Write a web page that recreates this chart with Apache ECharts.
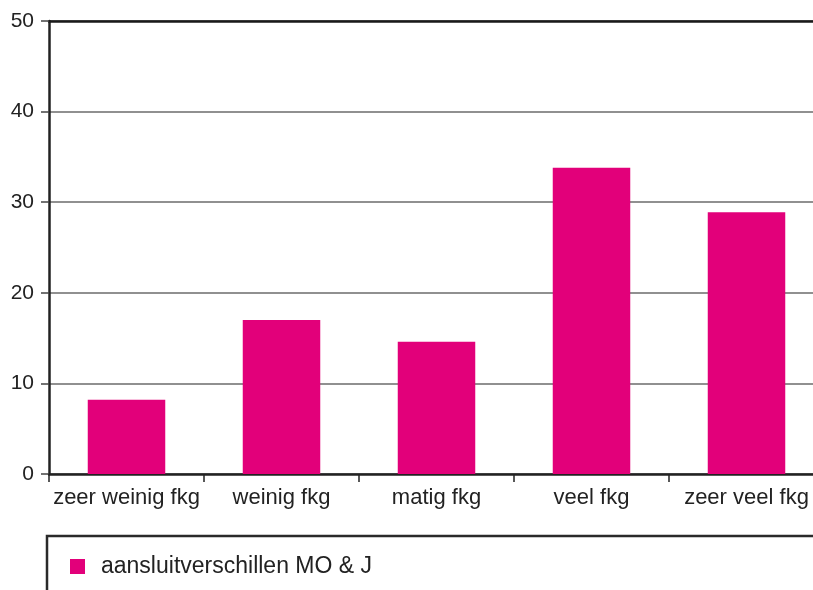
<!DOCTYPE html>
<html>
<head>
<meta charset="utf-8">
<script src="https://cdn.jsdelivr.net/npm/echarts@6/dist/echarts.min.js"></script>
<style>
html,body{margin:0;padding:0;background:#fff;overflow:hidden;width:813px;height:590px;}
#chart{width:825px;height:590px;}
</style>
</head>
<body>
<div id="chart"></div>
<script>
const categories = ['zeer weinig fkg', 'weinig fkg', 'matig fkg', 'veel fkg', 'zeer veel fkg'];
const values = [8.2, 17.0, 14.6, 33.8, 28.9];
const seriesName = 'aansluitverschillen MO & J';
const yTicks = { min: 0, max: 50, interval: 10 };

const font = '"Liberation Sans", Arial, sans-serif';
const chart = echarts.init(document.getElementById('chart'), null, { renderer: 'canvas' });
chart.setOption({
  animation: false,
  backgroundColor: '#fff',
  grid: { left: 49, right: 1, top: 21, bottom: 116, containLabel: false },
  legend: {
    data: [seriesName],
    left: 70, top: 555, padding: 0,
    icon: 'rect', itemWidth: 15, itemHeight: 15,
    textStyle: { fontFamily: font, fontSize: 23, color: '#222', padding: [0, 0, 0, 11] }
  },
  graphic: [{
    type: 'rect', z: -1,
    shape: { x: 47, y: 536, width: 820, height: 100 },
    style: { fill: 'none', stroke: '#2a2a2a', lineWidth: 2.5 }
  }],
  xAxis: [{
    type: 'category', data: categories, position: 'bottom',
    axisLine: { lineStyle: { color: '#222', width: 2.5 } },
    axisTick: { show: true, length: 8, alignWithLabel: false, lineStyle: { color: '#222', width: 1.5 } },
    axisLabel: { fontFamily: font, fontSize: 22, color: '#222', margin: 13, interval: 0 },
    splitLine: { show: false }
  }, {
    type: 'category', data: categories, position: 'top',
    axisLine: { show: true, lineStyle: { color: '#1a1a1a', width: 2.5 } },
    axisTick: { show: false }, axisLabel: { show: false }
  }],
  yAxis: {
    type: 'value', min: yTicks.min, max: yTicks.max, interval: yTicks.interval,
    axisLine: { show: true, lineStyle: { color: '#222', width: 2.5 } },
    axisTick: { show: true, length: 8, lineStyle: { color: '#444', width: 1.5 } },
    axisLabel: { fontFamily: font, fontSize: 21, color: '#222', margin: 15 },
    splitLine: { show: true, lineStyle: { color: '#6b6b6b', width: 1.5 } }
  },
  series: [{
    name: seriesName, type: 'bar', data: values,
    barWidth: '50%', itemStyle: { color: '#e2007a' }
  }]
});
</script>
</body>
</html>
